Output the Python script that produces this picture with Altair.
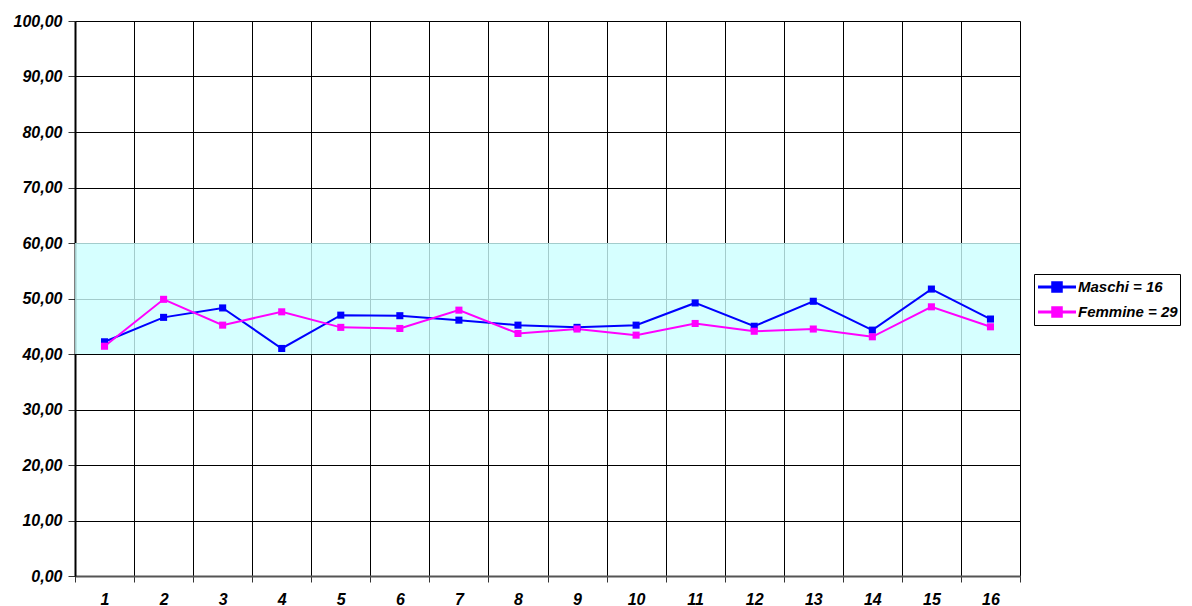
import altair as alt
import pandas as pd

categories = [str(i) for i in range(1, 17)]
maschi = [42.2, 46.6, 48.3, 41.0, 47.0, 46.9, 46.1, 45.2, 44.8, 45.2, 49.2, 45.0, 49.5, 44.3, 51.7, 46.3]
femmine = [41.4, 49.85, 45.2, 47.6, 44.8, 44.6, 47.9, 43.7, 44.5, 43.4, 45.5, 44.1, 44.5, 43.1, 48.5, 44.9]
series_names = ["Maschi = 16", "Femmine = 29"]
series_colors = ["#0000FF", "#FF00FF"]
band_low = [40.0]
band_high = [60.0]
y_ticks = list(range(0, 101, 10))

rows = []
for name, vals in zip(series_names, [maschi, femmine]):
    for c, v in zip(categories, vals):
        rows.append({"cat": c, "value": v, "serie": name})
df = pd.DataFrame(rows)
band_df = pd.DataFrame({"lo": band_low, "hi": band_high})

FONT = "Liberation Sans"
FS = 16
W, H = 945, 555

x_enc = alt.X(
    "cat:O",
    sort=categories,
    scale=alt.Scale(type="band", paddingInner=0, paddingOuter=0),
    axis=alt.Axis(
        title=None,
        labelAngle=0,
        tickBand="extent",
        grid=True,
        gridColor="#000000",
        gridWidth=1,
        gridOpacity=1,
        domainColor="#555555",
        domainWidth=2,
        tickColor="#333333",
        tickSize=6,
        labelPadding=9,
        labelFont=FONT,
        labelFontSize=FS,
        labelFontWeight="bold",
        labelFontStyle="italic",
        labelColor="#000000",
    ),
)

y_axis = alt.Axis(
    title=None,
    values=y_ticks,
    labelExpr="replace(format(datum.value, '.2f'), '.', ',')",
    grid=True,
    gridColor="#000000",
    gridWidth=1,
    gridOpacity=1,
    domainColor="#000000",
    domainWidth=2,
    tickColor="#333333",
    tickSize=7,
    labelPadding=6,
    labelFont=FONT,
    labelFontSize=FS,
    labelFontWeight="bold",
    labelFontStyle="italic",
    labelColor="#000000",
)
y_scale = alt.Scale(domain=[0, 100], nice=False)
y_enc = alt.Y("value:Q", scale=y_scale, axis=y_axis)

color_enc = alt.Color(
    "serie:N",
    sort=series_names,
    scale=alt.Scale(domain=series_names, range=series_colors),
    legend=alt.Legend(
        title=None,
        orient="none",
        legendX=959,
        legendY=253,
        strokeColor="#000000",
        fillColor="#ffffff",
        padding=2,
        rowPadding=3,
        symbolType="M-2,0L2,0M-0.45,-0.45L0.45,-0.45L0.45,0.45L-0.45,0.45Z",
        symbolSize=361,
        symbolStrokeWidth=3,
        symbolOffset=10,
        labelOffset=10,
        labelFont=FONT,
        labelFontSize=15,
        labelFontWeight="bold",
        labelFontStyle="italic",
        labelColor="#000000",
    ),
)

band = alt.Chart(band_df).mark_rect(color="#CCFFFF", opacity=0.8).encode(
    y=alt.Y("lo:Q", scale=y_scale, axis=y_axis),
    y2="hi:Q",
    x=alt.value(0),
    x2=alt.value(W),
)

lines = alt.Chart(df).mark_line(strokeWidth=2).encode(
    x=x_enc, y=y_enc, color=color_enc
)
points = alt.Chart(df).mark_point(shape="square", filled=True, size=50, opacity=1).encode(
    x=x_enc, y=y_enc, color=color_enc
)

chart = (
    alt.layer(band, lines, points)
    .properties(
        width=W,
        height=H,
        autosize=alt.AutoSizeParams(type="none"),
        padding={"left": 67, "top": 13, "right": 164, "bottom": 30},
    )
    .configure_view(stroke="#999999", strokeWidth=2)
    .configure(background="#ffffff")
)

chart.save("out.html", embed_options={"renderer": "svg", "actions": False})
